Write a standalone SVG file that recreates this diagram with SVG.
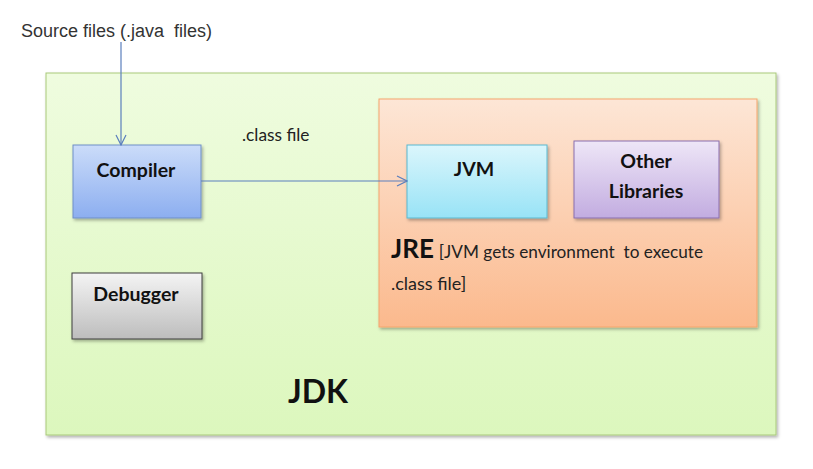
<svg xmlns="http://www.w3.org/2000/svg" width="813" height="469" viewBox="0 0 813 469">
<defs>
<linearGradient id="gJdk" x1="0" y1="0" x2="0" y2="1"><stop offset="0" stop-color="#effcdf"/><stop offset="1" stop-color="#dcf7bd"/></linearGradient>
<linearGradient id="gJre" x1="0" y1="0" x2="0" y2="1"><stop offset="0" stop-color="#fde6d6"/><stop offset="1" stop-color="#fbb98d"/></linearGradient>
<linearGradient id="gComp" x1="0" y1="0" x2="0" y2="1"><stop offset="0" stop-color="#cbdcf9"/><stop offset="1" stop-color="#8caef0"/></linearGradient>
<linearGradient id="gJvm" x1="0" y1="0" x2="0" y2="1"><stop offset="0" stop-color="#dbf6fc"/><stop offset="1" stop-color="#98e3f6"/></linearGradient>
<linearGradient id="gLib" x1="0" y1="0" x2="0" y2="1"><stop offset="0" stop-color="#eee6f7"/><stop offset="1" stop-color="#c2ace0"/></linearGradient>
<linearGradient id="gDbg" x1="0" y1="0" x2="0" y2="1"><stop offset="0" stop-color="#f4f4f4"/><stop offset="1" stop-color="#bdbdbd"/></linearGradient>
<filter id="sh" x="-10%" y="-10%" width="130%" height="130%"><feDropShadow dx="1.5" dy="2" stdDeviation="1.5" flood-color="#000" flood-opacity="0.3"/></filter>
<marker id="arr" viewBox="0 0 12 12" refX="11" refY="6" markerWidth="12" markerHeight="12" markerUnits="userSpaceOnUse" orient="auto"><path d="M1,1 L11,6 L1,11" fill="none" stroke="#5b7fbd" stroke-width="1.2"/></marker>
</defs>
<style>
.lbl{font-family:"Lato","Open Sans","Liberation Sans",sans-serif;font-weight:bold;fill:#111;text-anchor:middle}
.txt{font-family:"Lato","Open Sans","Liberation Sans",sans-serif;fill:#222}
.conn{stroke:#5b7fbd;stroke-width:1.2;fill:none}
</style>
<rect width="813" height="469" fill="#fff"/>
<g id="jdk">
<rect x="46" y="73" width="730" height="362" fill="url(#gJdk)" stroke="#a9c97a" stroke-width="1" filter="url(#sh)"/>
<text class="lbl" x="318" y="403" font-size="32">JDK</text>
</g>
<g id="jre">
<rect x="379" y="99" width="378" height="228" fill="url(#gJre)" stroke="#f5a56c" stroke-width="1" filter="url(#sh)"/>
<text class="txt" x="391" y="258" xml:space="preserve"><tspan font-size="26" font-weight="bold" fill="#111">JRE</tspan><tspan font-size="17.2" dx="5">[JVM gets environment  to execute</tspan></text>
<text class="txt" x="391" y="290" font-size="18">.class file]</text>
</g>
<g id="compiler">
<rect x="73" y="145" width="128" height="73" fill="url(#gComp)" stroke="#6f8fc7" stroke-width="1" filter="url(#sh)"/>
<text class="lbl" x="136" y="177" font-size="19.5">Compiler</text>
</g>
<g id="jvm">
<rect x="407" y="145" width="140" height="73" fill="url(#gJvm)" stroke="#5ab8d0" stroke-width="1" filter="url(#sh)"/>
<text class="lbl" x="474" y="176" font-size="19.5">JVM</text>
</g>
<g id="libraries">
<rect x="574" y="141" width="145" height="77" fill="url(#gLib)" stroke="#8a6fae" stroke-width="1" filter="url(#sh)"/>
<text class="lbl" x="646" y="168" font-size="19.5">Other</text>
<text class="lbl" x="646" y="198" font-size="19.5">Libraries</text>
</g>
<g id="debugger">
<rect x="72" y="273" width="130" height="66" fill="url(#gDbg)" stroke="#3c3c3c" stroke-width="1" filter="url(#sh)"/>
<text class="lbl" x="136" y="301" font-size="19.5">Debugger</text>
</g>
<g id="source">
<text x="21" y="37" font-family="Liberation Sans, Arial, sans-serif" font-size="18" fill="#333" xml:space="preserve">Source files (.java  files)</text>
</g>
<g id="connectors">
<line class="conn" x1="121" y1="42" x2="121" y2="145" marker-end="url(#arr)"/>
<line class="conn" x1="201" y1="181" x2="407" y2="181" marker-end="url(#arr)"/>
<text class="txt" x="242" y="141" font-size="17.3">.class file</text>
</g>
</svg>
